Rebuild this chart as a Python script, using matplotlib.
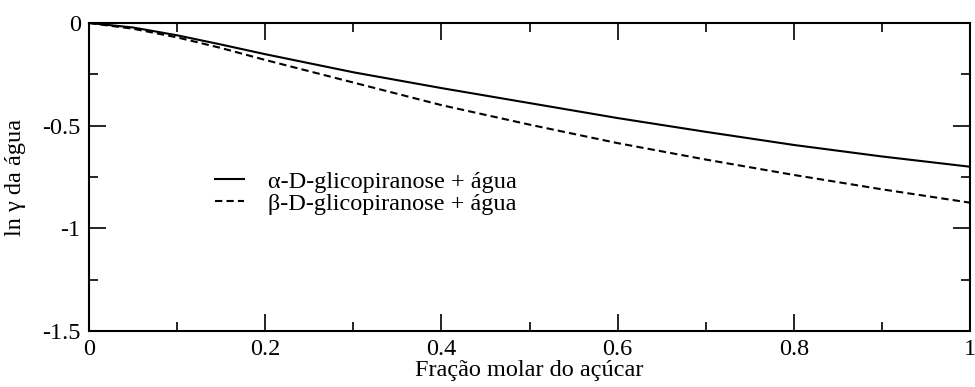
import numpy as np
import matplotlib
matplotlib.use("Agg")
import matplotlib.pyplot as plt
from matplotlib.ticker import MultipleLocator

plt.rcParams['font.family'] = ['Liberation Serif', 'DejaVu Serif']
plt.rcParams['axes.unicode_minus'] = False

# mole fraction of sugar and ln(gamma) of water for each anomer
x_frac = [0.0, 0.05, 0.1, 0.15, 0.2, 0.3, 0.4, 0.5, 0.6, 0.7, 0.8, 0.9, 1.0]
ln_gamma_alpha = [0.0, -0.022, -0.06, -0.105, -0.152, -0.24, -0.317, -0.39,
                  -0.463, -0.53, -0.594, -0.65, -0.70]
ln_gamma_beta = [0.0, -0.028, -0.07, -0.122, -0.18, -0.29, -0.40, -0.495,
                 -0.585, -0.665, -0.74, -0.81, -0.875]

xticks = [0, 0.2, 0.4, 0.6, 0.8, 1.0]
xtick_labels = ['0', '0.2', '0.4', '0.6', '0.8', '1']
yticks = [0, -0.5, -1.0, -1.5]
ytick_labels = ['0', '-0.5', '-1', '-1.5']

FS = 17.5

fig = plt.figure(figsize=(9.75, 3.87), dpi=100)
ax = fig.add_axes([0.0913, 0.1447, 0.9036, 0.7959])

ax.plot(x_frac, ln_gamma_alpha, color='black', lw=1.5,
        label='\u03b1-D-glicopiranose + \u00e1gua')
ax.plot(x_frac, ln_gamma_beta, color='black', lw=1.5, dashes=(3.5, 2),
        label='\u03b2-D-glicopiranose + \u00e1gua')

ax.set_xlim(0, 1)
ax.set_ylim(-1.5, 0)
ax.set_xticks(xticks)
ax.set_xticklabels(xtick_labels)
ax.set_yticks(yticks)
ax.set_yticklabels(ytick_labels)
ax.xaxis.set_minor_locator(MultipleLocator(0.1))
ax.yaxis.set_minor_locator(MultipleLocator(0.25))

ax.tick_params(which='both', direction='in', top=True, right=True,
               labelsize=FS, width=1.2)
ax.tick_params(which='major', length=12, pad=6)
ax.tick_params(which='minor', length=6.5)
for s in ax.spines.values():
    s.set_linewidth(1.5)

ax.set_xlabel('Fra\u00e7\u00e3o molar do a\u00e7\u00facar', fontsize=FS, labelpad=0)
ax.set_ylabel('ln \u03b3 da \u00e1gua', fontsize=FS, labelpad=12)

ax.legend(loc='upper left', bbox_to_anchor=(0.143, 0.52), frameon=False,
          fontsize=FS, handlelength=1.2, handletextpad=1.0,
          labelspacing=0.0, borderaxespad=0, borderpad=0)

fig.savefig('out.png', dpi=100)
